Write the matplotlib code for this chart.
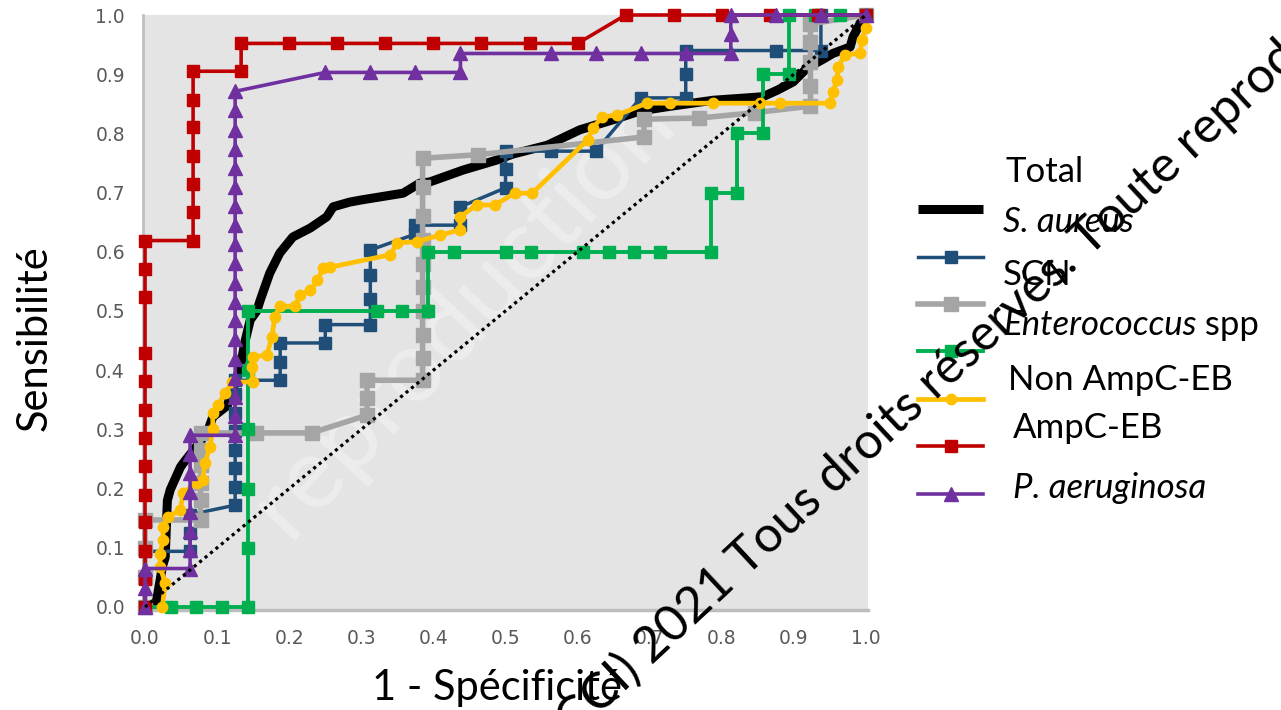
import matplotlib
matplotlib.use('Agg')
import matplotlib.pyplot as plt

plt.rcParams['font.family'] = ['Lato', 'DejaVu Sans']

# ---------------- data ----------------
ticks = [0.0, 0.1, 0.2, 0.3, 0.4, 0.5, 0.6, 0.7, 0.8, 0.9, 1.0]
tick_labels = ['0.0', '0.1', '0.2', '0.3', '0.4', '0.5', '0.6', '0.7', '0.8', '0.9', '1.0']

legend_labels = ['Total', 'S. aureus', 'SCN', 'Enterococcus', 'Non AmpC-EB', 'AmpC-EB', 'P. aeruginosa']

diag_x = [0.0, 1.0]
diag_y = [0.0, 1.0]

total_x = [0.0, 0.014, 0.017, 0.024, 0.028, 0.031, 0.035, 0.049, 0.053, 0.086,
           0.094, 0.114, 0.132, 0.139, 0.146, 0.155, 0.160, 0.173, 0.187, 0.205,
           0.229, 0.252, 0.261, 0.284, 0.302, 0.358, 0.381, 0.395, 0.441, 0.488,
           0.510, 0.558, 0.603, 0.649, 0.687, 0.724, 0.788, 0.835, 0.857, 0.877,
           0.899, 0.918, 0.940, 0.954, 0.978, 0.982, 0.992, 1.0]
total_y = [0.0, 0.0, 0.017, 0.068, 0.084, 0.180, 0.198, 0.236, 0.243, 0.294,
           0.321, 0.340, 0.405, 0.450, 0.485, 0.500, 0.519, 0.564, 0.598, 0.625,
           0.640, 0.659, 0.676, 0.684, 0.688, 0.699, 0.716, 0.718, 0.738, 0.755,
           0.765, 0.780, 0.806, 0.823, 0.838, 0.845, 0.856, 0.860, 0.862, 0.873,
           0.887, 0.910, 0.925, 0.935, 0.946, 0.963, 0.986, 1.0]

scn_x = [0.0, 0.0, 0.0625, 0.0625, 0.0625, 0.125, 0.125, 0.125, 0.125, 0.125,
         0.125, 0.125, 0.125, 0.1875, 0.1875, 0.1875, 0.25, 0.25, 0.3125, 0.3125,
         0.3125, 0.3125, 0.375, 0.375, 0.4375, 0.4375, 0.5, 0.5, 0.5, 0.5625,
         0.625, 0.6875, 0.75, 0.75, 0.75, 0.875, 0.9375, 0.9375, 1.0]
scn_y = [0.0, 0.094, 0.094, 0.125, 0.156, 0.172, 0.203, 0.234, 0.266, 0.297,
         0.328, 0.359, 0.383, 0.383, 0.414, 0.446, 0.446, 0.477, 0.477, 0.520,
         0.560, 0.603, 0.630, 0.645, 0.645, 0.676, 0.708, 0.740, 0.770, 0.770,
         0.770, 0.860, 0.860, 0.900, 0.940, 0.940, 0.940, 1.0, 1.0]

entero_x = [0.0, 0.0, 0.0, 0.0, 0.077, 0.077, 0.077, 0.077, 0.077, 0.077,
            0.154, 0.231, 0.308, 0.308, 0.308, 0.385, 0.385, 0.385, 0.385, 0.385,
            0.385, 0.385, 0.385, 0.385, 0.385, 0.462, 0.692, 0.692, 0.769, 0.846,
            0.923, 0.923, 0.923, 0.923, 0.923, 1.0]
entero_y = [0.0, 0.050, 0.100, 0.147, 0.147, 0.180, 0.210, 0.240, 0.265, 0.294,
            0.294, 0.294, 0.324, 0.353, 0.383, 0.383, 0.420, 0.460, 0.500, 0.540,
            0.580, 0.620, 0.660, 0.710, 0.758, 0.764, 0.794, 0.824, 0.826, 0.835,
            0.846, 0.880, 0.920, 0.955, 0.985, 1.0]

green_x = [0.0, 0.0357, 0.0714, 0.1071, 0.1429, 0.1429, 0.1429, 0.1429, 0.1429, 0.1429,
           0.3214, 0.3571, 0.3929, 0.3929, 0.4286, 0.5, 0.5357, 0.6071, 0.6429, 0.6786,
           0.7143, 0.7857, 0.7857, 0.8214, 0.8214, 0.8571, 0.8571, 0.8929, 0.8929, 0.9286,
           0.9643, 1.0]
green_y = [0.0, 0.0, 0.0, 0.0, 0.0, 0.1, 0.2, 0.3, 0.4, 0.5,
           0.5, 0.5, 0.5, 0.6, 0.6, 0.6, 0.6, 0.6, 0.6, 0.6,
           0.6, 0.6, 0.7, 0.7, 0.8, 0.8, 0.9, 0.9, 1.0, 1.0,
           1.0, 1.0]

yellow_x = [0.024, 0.028, 0.021, 0.021, 0.025, 0.025, 0.032, 0.049, 0.053, 0.072,
            0.080, 0.083, 0.090, 0.094, 0.094, 0.101, 0.111, 0.121, 0.150, 0.148,
            0.150, 0.169, 0.176, 0.180, 0.187, 0.208, 0.215, 0.229, 0.239, 0.247,
            0.257, 0.340, 0.350, 0.377, 0.409, 0.437, 0.437, 0.460, 0.485, 0.513,
            0.537, 0.614, 0.621, 0.634, 0.655, 0.696, 0.728, 0.788, 0.853, 0.881,
            0.950, 0.954, 0.960, 0.961, 0.971, 0.992, 0.994, 1.0, 1.0]
yellow_y = [0.0, 0.040, 0.068, 0.090, 0.113, 0.135, 0.152, 0.164, 0.193, 0.210,
            0.215, 0.243, 0.270, 0.300, 0.328, 0.341, 0.361, 0.380, 0.380, 0.405,
            0.422, 0.426, 0.456, 0.490, 0.508, 0.508, 0.527, 0.535, 0.552, 0.572,
            0.574, 0.595, 0.615, 0.617, 0.628, 0.637, 0.659, 0.679, 0.679, 0.699,
            0.699, 0.789, 0.809, 0.828, 0.831, 0.851, 0.851, 0.851, 0.851, 0.851,
            0.851, 0.870, 0.890, 0.912, 0.932, 0.936, 0.958, 0.978, 1.0]

red_x = [0.0, 0.0, 0.0, 0.0, 0.0, 0.0, 0.0, 0.0, 0.0, 0.0, 0.0, 0.0, 0.0,
         0.0667, 0.0667, 0.0667, 0.0667, 0.0667, 0.0667, 0.0667,
         0.1333, 0.1333, 0.2, 0.2667, 0.3333, 0.4, 0.4667, 0.5333, 0.6,
         0.6667, 0.7333, 0.8, 0.8667, 0.9333, 1.0]
red_y = [0.0, 0.048, 0.095, 0.143, 0.190, 0.238, 0.286, 0.333, 0.381, 0.429, 0.524, 0.571, 0.619,
         0.619, 0.667, 0.714, 0.762, 0.810, 0.857, 0.905,
         0.905, 0.952, 0.952, 0.952, 0.952, 0.952, 0.952, 0.952, 0.952,
         1.0, 1.0, 1.0, 1.0, 1.0, 1.0]

purple_x = [0.0, 0.0, 0.0,
            0.0625, 0.0625, 0.0625, 0.0625, 0.0625, 0.0625, 0.0625, 0.0625,
            0.125, 0.125, 0.125, 0.125, 0.125, 0.125, 0.125, 0.125, 0.125, 0.125,
            0.125, 0.125, 0.125, 0.125, 0.125, 0.125, 0.125, 0.125, 0.125,
            0.25, 0.3125, 0.375, 0.4375, 0.4375, 0.5625, 0.625, 0.6875, 0.75, 0.8125,
            0.8125, 0.8125, 0.875, 0.9375, 1.0]
purple_y = [0.0, 0.032, 0.065,
            0.065, 0.097, 0.129, 0.161, 0.194, 0.226, 0.258, 0.290,
            0.290, 0.323, 0.355, 0.387, 0.419, 0.452, 0.484, 0.516, 0.548, 0.581,
            0.613, 0.645, 0.677, 0.710, 0.742, 0.774, 0.806, 0.839, 0.871,
            0.903, 0.903, 0.903, 0.903, 0.935, 0.935, 0.935, 0.935, 0.935, 0.935,
            0.968, 1.0, 1.0, 1.0, 1.0]

# ---------------- figure ----------------
W, H = 1281, 710
fig = plt.figure(figsize=(W / 100, H / 100), dpi=100)
fig.patch.set_facecolor('white')
ax = fig.add_axes([143 / W, 1 - 610 / H, 725 / W, 595 / H])
ax.set_facecolor('#E4E4E4')
ax.set_xlim(-0.0028, 1.0028)
ax.set_ylim(-0.0051, 1.0)
for s in ['top', 'right']:
    ax.spines[s].set_visible(False)
ax.spines['left'].set_color('#C0C0C0')
ax.spines['left'].set_linewidth(2)
ax.spines['bottom'].set_color('#BDBDBD')
ax.spines['bottom'].set_linewidth(2.5)

ax.set_xticks(ticks)
ax.set_xticklabels(tick_labels)
ax.set_yticks(ticks)
ax.set_yticklabels(tick_labels)
ax.tick_params(length=0, labelsize=13.5, labelcolor='#595959')
ax.tick_params(axis='x', pad=14)
ax.tick_params(axis='y', pad=13)
for lab in ax.get_xticklabels() + ax.get_yticklabels():
    lab.set_family('DejaVu Sans')

# faint white watermark inside the plot
ax.text(0.44, 0.50, 'reproduction', transform=ax.transAxes, rotation=47,
        rotation_mode='anchor', ha='center', va='center', fontsize=72,
        color='white', alpha=0.33, zorder=1.5)

common = dict(clip_on=False, solid_joinstyle='miter')
h_total, = ax.plot(total_x, total_y, color='black', lw=6.5, zorder=2,
                   solid_capstyle='butt', clip_on=False)
h_scn, = ax.plot(scn_x, scn_y, color='#1F4E79', lw=2.5, marker='s', ms=9, zorder=3, **common)
h_ent, = ax.plot(entero_x, entero_y, color='#A5A5A5', lw=4.0, marker='s', ms=9.5, zorder=4, **common)
h_grn, = ax.plot(green_x, green_y, color='#00B050', lw=2.8, marker='s', ms=8.5, zorder=5, **common)
h_yel, = ax.plot(yellow_x, yellow_y, color='#FFC000', lw=3.4, marker='o', ms=7.5, zorder=6, **common)
h_red, = ax.plot(red_x, red_y, color='#C00000', lw=2.6, marker='s', ms=9, zorder=7, **common)
h_pur, = ax.plot(purple_x, purple_y, color='#7030A0', lw=2.6, marker='^', ms=10.5, zorder=8, **common)
ax.plot(diag_x, diag_y, color='black', lw=2.3, ls=(0, (1, 1.2)), zorder=9)

# legend handles (labels written separately, as in the source slide)
leg = fig.legend([h_total, h_scn, h_ent, h_grn, h_yel, h_red, h_pur],
                 [''] * 7, loc='upper left', bbox_to_anchor=(918 / W, 1 - 204 / H),
                 frameon=False, fontsize=10, handlelength=4.7, handletextpad=0,
                 labelspacing=2.55, borderpad=0, borderaxespad=0, numpoints=1)

lab_pos = [(1005, 172), (1003, 222), (1003, 275), (1003, 325), (1008, 380), (1013, 428), (1013, 488)]
lab_style = ['normal', 'italic', 'normal', 'italic', 'normal', 'normal', 'italic']
ent_text = None
for txt, (px, py), st in zip(legend_labels, lab_pos, lab_style):
    t = fig.text(px / W, 1 - py / H, txt, fontsize=25, style=st, ha='left', va='center')
    if txt == 'Enterococcus':
        ent_text = t
ax.annotate(' spp', xy=(1, 0.5), xycoords=ent_text, fontsize=25, ha='left', va='center',
            annotation_clip=False)

# axis titles
fig.text(35 / W, 1 - 338 / H, 'Sensibilité', rotation=90, fontsize=30, ha='center', va='center')
fig.text(497 / W, 1 - 688 / H, '1 - Spécificité', fontsize=30, ha='center', va='center')

# black copyright watermark
wx, wy = 652, 665
fig.text(wx / W, 1 - wy / H, '2021 Tous droits réservés. Toute reproduction interdite',
         rotation=43, rotation_mode='anchor', ha='left', va='baseline', fontsize=36,
         color='black', zorder=20)
fig.text(wx / W, 1 - wy / H, '(CCI) ',
         rotation=43, rotation_mode='anchor', ha='right', va='baseline', fontsize=36,
         color='black', zorder=20)

fig.savefig('out.png', dpi=100)
